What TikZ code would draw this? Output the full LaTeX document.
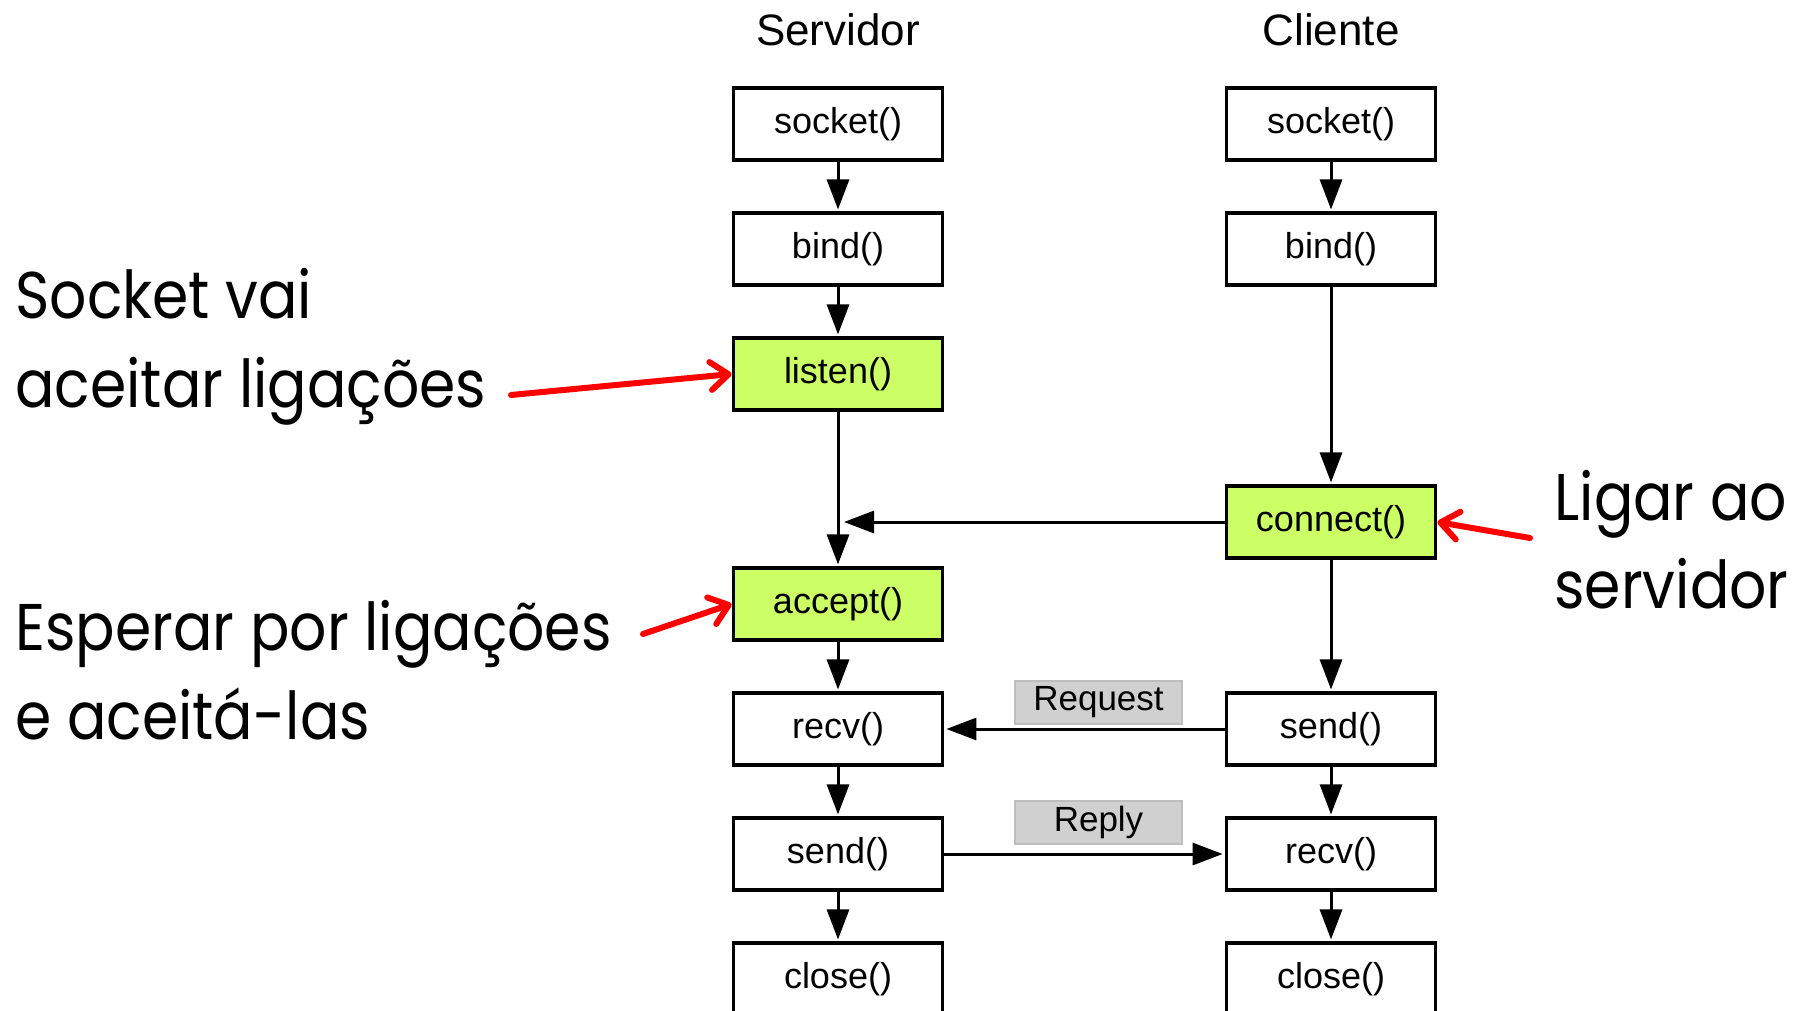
\documentclass[tikz,border=0pt]{standalone}
\usepackage{fontspec}
\setmainfont{Liberation Sans}
\newfontfamily\notefont[FakeStretch=0.885]{Poppins}
\usetikzlibrary{arrows.meta}
\definecolor{callgreen}{RGB}{204,255,102}
\definecolor{tagfill}{RGB}{208,208,208}
\definecolor{tagline}{RGB}{190,190,190}

\begin{document}
\begin{tikzpicture}[x=0.5pt,y=-0.5pt,
  call/.style={draw=black, line width=1.7pt, minimum width=104.7pt,
    minimum height=35.85pt, inner sep=0pt, font=\fontsize{18}{20}\selectfont},
  hot/.style={call, fill=callgreen},
  head/.style={font=\fontsize{22}{24}\selectfont, anchor=base, inner sep=0pt},
  tag/.style={fill=tagfill, draw=tagline, line width=1pt, minimum width=83.5pt,
    minimum height=21.5pt, inner sep=0pt, font=\fontsize{17.5}{20}\selectfont},
  flow/.style={line width=1.5pt, shorten >=1pt,
    -{Triangle[length=15pt,width=11pt]}},
  note/.style={font=\notefont\fontsize{33}{40}\selectfont, anchor=base west,
    inner sep=0pt},
  hint/.style={draw=red, line width=3pt, line cap=round,
    -{Straight Barb[length=9pt,width=14pt,line cap=round,line join=round]}}
]
\useasboundingbox (0,0) rectangle (1814,1011);

% column headers
\node[head] (hsrv) at (838,46) {Servidor};
\node[head] (hcli) at (1331,46) {Cliente};

% server calls
\node[call] (ssock)   at (838,124) {socket()};
\node[call] (sbind)   at (838,249) {bind()};
\node[hot]  (slisten) at (838,374) {listen()};
\node[hot]  (saccept) at (838,604) {accept()};
\node[call] (srecv)   at (838,729) {recv()};
\node[call] (ssend)   at (838,854) {send()};
\node[call] (sclose)  at (838,979) {close()};

% client calls
\node[call] (csock)    at (1331,124) {socket()};
\node[call] (cbind)    at (1331,249) {bind()};
\node[hot]  (cconnect) at (1331,522) {connect()};
\node[call] (csend)    at (1331,729) {send()};
\node[call] (crecv)    at (1331,854) {recv()};
\node[call] (cclose)   at (1331,979) {close()};

% message tags
\node[tag] (treq) at (1098.5,702) {Request};
\node[tag] (trep) at (1098.5,822.5) {Reply};

% server flow
\draw[flow] (ssock) -- (sbind);
\draw[flow] (sbind) -- (slisten);
\draw[flow] (slisten) -- (saccept);
\draw[flow] (saccept) -- (srecv);
\draw[flow] (srecv) -- (ssend);
\draw[flow] (ssend) -- (sclose);

% client flow
\draw[flow] (csock) -- (cbind);
\draw[flow] (cbind) -- (cconnect);
\draw[flow] (cconnect) -- (csend);
\draw[flow] (csend) -- (crecv);
\draw[flow] (crecv) -- (cclose);

% connection request joins the server line
\coordinate (join) at (844,522);
\draw[flow, shorten >=0pt] (cconnect.west) -- (join);

% data exchange
\draw[flow] (csend.west) -- (srecv.east);
\draw[flow] (ssend.east) -- (crecv.west);

% side notes
\node[note] (n1a) at (15,318) {Socket vai};
\node[note] (n1b) at (15,407) {aceitar ligações};
\node[note] (n2a) at (15,650) {Esperar por ligações};
\node[note] (n2b) at (15,739) {e aceitá-las};
\node[note] (n3a) at (1554,520) {Ligar ao};
\node[note] (n3b) at (1554,608) {servidor};

\coordinate (t1) at (511,395);
\coordinate (t2) at (643,634);
\coordinate (t3) at (1530,538);
\draw[hint] (t1) -- (slisten.west);
\draw[hint] (t2) -- (saccept.west);
\draw[hint] (t3) -- (cconnect.east);
\end{tikzpicture}
\end{document}
